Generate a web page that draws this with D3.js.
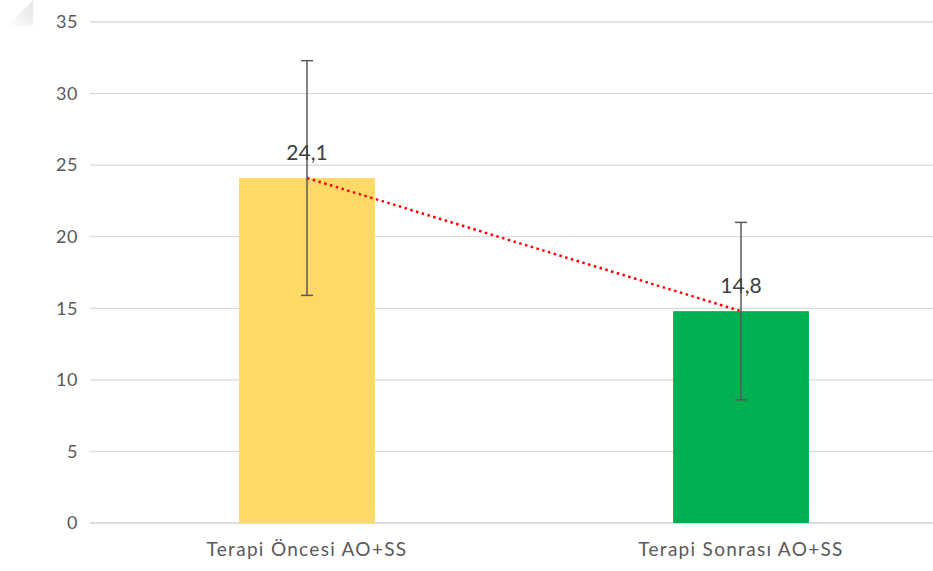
<!DOCTYPE html>
<html><head><meta charset="utf-8">
<script src="https://cdn.jsdelivr.net/npm/d3@7"></script>
<style>body{margin:0;background:#fff;} svg{display:block;}</style>
</head><body>
<script>
const categories = ["Terapi Öncesi AO+SS", "Terapi Sonrası AO+SS"];
const values = [24.1, 14.8];
const errors = [8.2, 6.2];
const valueLabels = ["24,1", "14,8"];
const colors = ["#FFD966", "#00B050"];
const yTicks = [0, 5, 10, 15, 20, 25, 30, 35];

const W = 933, H = 571;
const svg = d3.select("body").append("svg").attr("width", W).attr("height", H);
const font = "Lato, 'Open Sans', sans-serif";

// corner artifact
const defs = svg.append("defs");
const g1 = defs.append("linearGradient").attr("id","cg").attr("x1","0").attr("y1","1").attr("x2","1").attr("y2","0");
g1.append("stop").attr("offset","0").attr("stop-color","#ffffff");
g1.append("stop").attr("offset","0.6").attr("stop-color","#eeeeee");
g1.append("stop").attr("offset","1").attr("stop-color","#e6e6e6");
svg.append("polygon").attr("points","33,0 33,25 7,27").attr("fill","url(#cg)");

const x = d3.scaleBand().domain(categories).range([90, 958]).paddingInner(0.687).paddingOuter(0.3435);
const y = d3.scaleLinear().domain([0, 35]).range([523, 22]);

// gridlines
svg.append("g").selectAll("line").data(yTicks).join("line")
  .attr("x1", 90).attr("x2", W).attr("y1", d => y(d)).attr("y2", d => y(d))
  .attr("stroke", d => d === 0 ? "#d0d0d0" : "#d9d9d9").attr("stroke-width", 1.3);

// y tick labels
const yAxis = svg.append("g").attr("transform", "translate(90,0)")
  .call(d3.axisLeft(y).tickValues(yTicks).tickSize(0).tickPadding(12));
yAxis.select(".domain").remove();
yAxis.selectAll("text").attr("font-family", font).attr("font-size", 18).attr("fill", "#595959")
  .attr("letter-spacing", 0.5);

// x labels
const xAxis = svg.append("g").attr("transform", `translate(0,${y(0)})`)
  .call(d3.axisBottom(x).tickSize(0).tickPadding(20));
xAxis.select(".domain").remove();
xAxis.selectAll("text").attr("font-family", font).attr("font-size", 19).attr("fill", "#595959")
  .attr("letter-spacing", 1.3);

// bars
svg.append("g").selectAll("rect").data(values).join("rect")
  .attr("x", (d, i) => x(categories[i])).attr("width", x.bandwidth())
  .attr("y", d => y(d)).attr("height", d => y(0) - y(d))
  .attr("fill", (d, i) => colors[i]);

// dotted trend line
const cx = i => x(categories[i]) + x.bandwidth() / 2;
svg.append("path")
  .attr("d", d3.line().x((d, i) => cx(i)).y(d => y(d))(values))
  .attr("stroke", "#FF0000").attr("stroke-width", 2.5).attr("fill", "none")
  .attr("stroke-dasharray", "2.5,3.5");

// error bars
const eb = svg.append("g").attr("stroke", "#595959").attr("stroke-width", 1.5);
values.forEach((v, i) => {
  const c = cx(i);
  eb.append("line").attr("x1", c).attr("x2", c).attr("y1", y(v + errors[i])).attr("y2", y(v - errors[i]));
  [v + errors[i], v - errors[i]].forEach(e => {
    eb.append("line").attr("x1", c - 6).attr("x2", c + 6).attr("y1", y(e)).attr("y2", y(e));
  });
});

// value labels
svg.append("g").selectAll("text").data(values).join("text")
  .attr("x", (d, i) => cx(i)).attr("y", d => y(d) - 18)
  .attr("text-anchor", "middle").attr("font-family", font).attr("font-size", 21)
  .attr("fill", "#404040").text((d, i) => valueLabels[i]);
</script>
</body></html>
